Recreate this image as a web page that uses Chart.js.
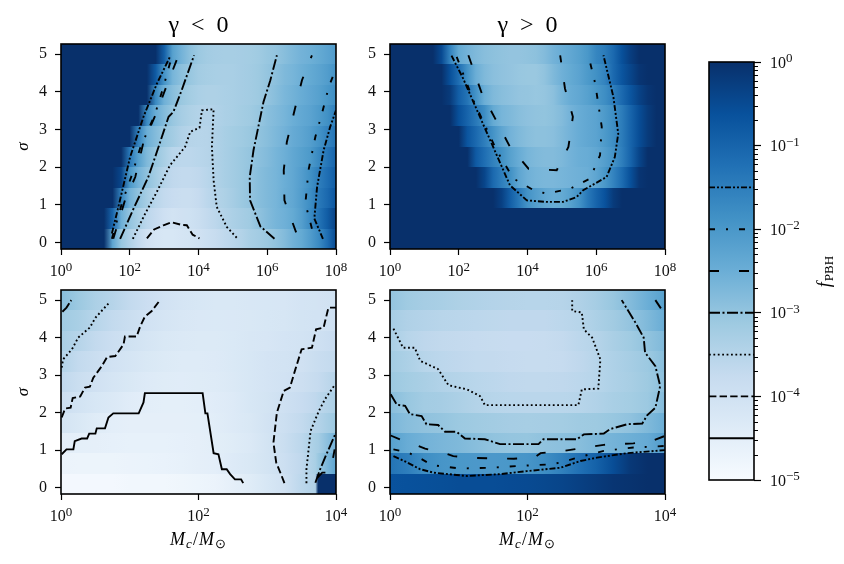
<!DOCTYPE html>
<html>
<head>
<meta charset="utf-8">
<style>
  html, body { margin: 0; background: #fff; }
  canvas { position: absolute; }
</style>
<script src="https://cdn.jsdelivr.net/npm/chart.js@4"></script>
</head>
<body>
<canvas id="topLeft" width="360" height="280" style="left:0;top:0"></canvas>
<canvas id="topRight" width="330" height="280" style="left:360px;top:0"></canvas>
<canvas id="bottomLeft" width="360" height="284" style="left:0;top:280px"></canvas>
<canvas id="bottomRight" width="330" height="284" style="left:360px;top:280px"></canvas>
<canvas id="colorBar" width="154" height="460" style="left:690px;top:40px"></canvas>
<script>
// edges of the 10 sigma rows, and log10(Mc) of the columns
const sigmaEdges = [-0.17, 0.37, 0.91, 1.46, 2.0, 2.55, 3.09, 3.64, 4.18, 4.73, 5.27];
const sigmaTicks = [0, 1, 2, 3, 4, 5];
const wideExp = [0,.25,.5,.75,1,1.25,1.5,1.75,2,2.25,2.5,2.75,3,3.25,3.5,3.75,4,4.25,4.5,4.75,5,5.25,5.5,5.75,6,6.25,6.5,6.75,7,7.25,7.5,7.75,8];
const narrowExp = [0,.25,.5,.75,1,1.25,1.5,1.75,2,2.25,2.5,2.75,3,3.25,3.5,3.75,4];
const narrowExpEdge = [0,.25,.5,.75,1,1.25,1.5,1.75,2,2.25,2.5,2.75,3,3.25,3.5,3.7,3.74,4];
const wideTicks = [1, 1e2, 1e4, 1e6, 1e8];
const narrowTicks = [1, 1e2, 1e4];
const barTicks = [1e-5, 1e-4, 1e-3, 1e-2, 1e-1, 1];
const barLevels = [-4.5, -4, -3.5, -3, -2.5, -2, -1.5];

// log10(fPBH), one line per sigma row, bottom row first
const topLeftF = [
  [0,0,0,0,0,0,-2.3,-3.05,-3.4,-3.7,-4,-4.15,-4.2,-4.2,-4.15,-4.1,-4,-3.89,-3.77,-3.66,-3.56,-3.45,-3.3,-3.2,-3.1,-2.97,-2.8,-2.57,-2.4,-2.1,-1.75,-1.2,-.5],
  [0,0,0,0,0,0,-1,-2.5,-3,-3.3,-3.6,-3.75,-3.95,-4.05,-4,-3.97,-3.85,-3.7,-3.6,-3.45,-3.35,-3.25,-3.15,-2.95,-2.8,-2.65,-2.55,-2.4,-2.15,-1.75,-1.3,-.85,-.35],
  [0,0,0,0,0,0,0,-1.6,-2.6,-2.95,-3.25,-3.55,-3.7,-3.8,-3.85,-3.85,-3.75,-3.6,-3.47,-3.37,-3.25,-3.1,-3,-2.85,-2.75,-2.65,-2.48,-2.35,-2.1,-1.8,-1.4,-1.1,-.7],
  [0,0,0,0,0,0,0,-.4,-2,-2.6,-2.95,-3.2,-3.5,-3.65,-3.7,-3.7,-3.65,-3.55,-3.42,-3.3,-3.2,-3.1,-3,-2.85,-2.75,-2.65,-2.5,-2.35,-2.13,-1.85,-1.5,-1.2,-.85],
  [0,0,0,0,0,0,0,0,-1.4,-2.2,-2.75,-3.05,-3.3,-3.55,-3.6,-3.6,-3.55,-3.5,-3.4,-3.3,-3.2,-3.1,-3.02,-2.9,-2.8,-2.65,-2.52,-2.35,-2.2,-2.05,-1.7,-1.35,-1],
  [0,0,0,0,0,0,0,0,0,-1.6,-2.5,-2.8,-3.05,-3.2,-3.4,-3.5,-3.52,-3.5,-3.4,-3.3,-3.22,-3.15,-3.08,-2.97,-2.85,-2.72,-2.6,-2.42,-2.3,-2.15,-1.9,-1.6,-1.3],
  [0,0,0,0,0,0,0,0,0,0,-1.75,-2.45,-2.8,-3.05,-3.25,-3.37,-3.45,-3.47,-3.42,-3.35,-3.3,-3.22,-3.15,-3.05,-2.88,-2.77,-2.65,-2.5,-2.37,-2.25,-2.07,-1.85,-1.5],
  [0,0,0,0,0,0,0,0,0,0,0,-1.7,-2.55,-2.85,-3.07,-3.22,-3.33,-3.37,-3.37,-3.33,-3.3,-3.25,-3.2,-3.12,-3,-2.85,-2.7,-2.58,-2.45,-2.33,-2.2,-2,-1.8],
  [0,0,0,0,0,0,0,0,0,0,0,-.8,-1.9,-2.65,-2.9,-3.05,-3.2,-3.27,-3.3,-3.32,-3.3,-3.25,-3.2,-3.12,-3.02,-2.9,-2.75,-2.65,-2.52,-2.4,-2.27,-2.12,-1.9],
  [0,0,0,0,0,0,0,0,0,0,0,0,-.9,-2.2,-2.6,-2.9,-3.1,-3.2,-3.25,-3.27,-3.27,-3.25,-3.22,-3.15,-3.05,-2.99,-2.85,-2.72,-2.6,-2.52,-2.4,-2.25,-2.1]
];
const topRightF = [
  [0,0,0,0,0,0,0,0,0,0,0,0,0,0,0,0,0,0,0,0,0,0,0,0,0,0,0,0,0,0,0,0,0],
  [0,0,0,0,0,0,0,0,0,0,0,0,0,0,0,0,0,0,0,0,0,0,0,0,0,0,0,0,0,0,0,0,0],
  [0,0,0,0,0,0,0,0,0,0,0,0,0,-.3,-.9,-1.4,-1.9,-2.15,-2.35,-2.45,-2.4,-2.2,-1.9,-1.4,-1,-.65,-.2,0,0,0,0,0,0],
  [0,0,0,0,0,0,0,0,0,0,0,-.4,-1.1,-1.5,-1.85,-2.3,-2.55,-2.65,-2.7,-2.7,-2.65,-2.6,-2.55,-2.5,-2.3,-2,-1.6,-1.15,-.6,-.1,0,0,0],
  [0,0,0,0,0,0,0,0,0,0,-.8,-1.2,-1.55,-1.85,-2.2,-2.45,-2.65,-2.75,-2.8,-2.8,-2.72,-2.6,-2.5,-2.45,-2.35,-2.15,-1.9,-1.5,-1,-.4,0,0,0],
  [0,0,0,0,0,0,0,0,0,-.7,-1.1,-1.5,-1.9,-2.3,-2.6,-2.75,-2.85,-2.92,-2.92,-2.88,-2.75,-2.6,-2.45,-2.35,-2.25,-2.05,-1.8,-1.45,-1,-.55,-.2,0,0],
  [0,0,0,0,0,0,0,0,-.6,-1,-1.4,-1.8,-2.4,-2.65,-2.75,-2.85,-2.93,-2.97,-2.98,-2.92,-2.8,-2.6,-2.45,-2.35,-2.25,-2.05,-1.8,-1.45,-1,-.55,-.2,0,0],
  [0,0,0,0,0,0,0,-.2,-.9,-1.3,-1.9,-2.5,-2.75,-2.85,-2.93,-3,-3.02,-3.05,-3.02,-2.9,-2.65,-2.45,-2.35,-2.2,-2,-1.8,-1.5,-1.1,-.7,-.35,-.1,0,0],
  [0,0,0,0,0,0,0,-.6,-1.2,-1.9,-2.5,-2.75,-2.88,-2.95,-3,-3.05,-3.08,-3.08,-2.97,-2.75,-2.55,-2.4,-2.25,-2.05,-1.85,-1.6,-1.1,-.7,-.4,-.1,0,0,0],
  [0,0,0,0,0,0,-.5,-1.6,-2.4,-2.6,-2.75,-2.85,-2.92,-2.97,-3,-3,-2.97,-2.92,-2.8,-2.6,-2.45,-2.35,-2.2,-2,-1.65,-1.45,-1.1,-.6,-.25,0,0,0,0]
];
const bottomLeftF = [
  [-4.9,-4.9,-4.9,-4.9,-4.85,-4.85,-4.85,-4.8,-4.75,-4.7,-4.55,-4.4,-4.2,-4,-3.6,-3.4,0,0],
  [-4.7,-4.72,-4.72,-4.72,-4.7,-4.68,-4.65,-4.6,-4.55,-4.5,-4.35,-4.25,-4.1,-3.9,-3.65,-3.3,-3.1,-2.3],
  [-4.5,-4.52,-4.55,-4.58,-4.6,-4.6,-4.6,-4.58,-4.55,-4.48,-4.4,-4.3,-4.1,-3.85,-3.6,-3.3,-3.25,-2.6],
  [-4.1,-4.25,-4.4,-4.5,-4.55,-4.55,-4.55,-4.55,-4.52,-4.45,-4.35,-4.25,-4.05,-3.9,-3.7,-3.5,-3.47,-3.1],
  [-3.9,-4.05,-4.2,-4.3,-4.43,-4.5,-4.52,-4.52,-4.5,-4.42,-4.35,-4.2,-4.1,-3.95,-3.8,-3.65,-3.6,-3.35],
  [-3.65,-3.85,-4,-4.15,-4.25,-4.35,-4.4,-4.42,-4.4,-4.37,-4.3,-4.2,-4.12,-4.03,-3.92,-3.78,-3.75,-3.5],
  [-3.45,-3.7,-3.85,-4.03,-4.15,-4.25,-4.32,-4.37,-4.38,-4.35,-4.28,-4.2,-4.12,-4.07,-4,-3.85,-3.83,-3.7],
  [-3.3,-3.5,-3.7,-3.87,-4.02,-4.15,-4.25,-4.3,-4.32,-4.32,-4.28,-4.22,-4.18,-4.12,-4.05,-3.98,-3.95,-3.8],
  [-3.15,-3.3,-3.52,-3.7,-3.85,-4.03,-4.15,-4.22,-4.27,-4.28,-4.27,-4.25,-4.2,-4.17,-4.1,-4.05,-4.05,-3.95],
  [-2.85,-3.1,-3.35,-3.5,-3.7,-3.88,-4.03,-4.13,-4.2,-4.25,-4.25,-4.22,-4.2,-4.18,-4.12,-4.1,-4.08,-4.02]
];
const bottomRightF = [
  [-.65,-.62,-.6,-.58,-.55,-.55,-.55,-.52,-.5,-.45,-.4,-.3,-.2,-.1,-.05,0,0],
  [-1.3,-1.5,-1.8,-1.95,-2,-2.02,-2.02,-2,-1.95,-1.8,-1.55,-1.25,-.95,-.55,-.15,0,0],
  [-2.2,-2.45,-2.6,-2.68,-2.75,-2.85,-2.97,-3.02,-3.03,-2.95,-2.9,-2.85,-2.72,-2.62,-2.52,-2.42,-2.1],
  [-2.7,-2.85,-2.95,-3.02,-3.1,-3.15,-3.2,-3.25,-3.27,-3.25,-3.22,-3.15,-3.12,-3.05,-2.95,-2.75,-2.5],
  [-2.85,-3.05,-3.2,-3.25,-3.35,-3.45,-3.52,-3.55,-3.57,-3.57,-3.55,-3.52,-3.42,-3.3,-3.22,-3.1,-2.8],
  [-3.1,-3.22,-3.32,-3.42,-3.48,-3.55,-3.6,-3.65,-3.67,-3.67,-3.65,-3.6,-3.52,-3.38,-3.28,-3.12,-2.9],
  [-3.2,-3.35,-3.52,-3.6,-3.65,-3.7,-3.72,-3.75,-3.77,-3.77,-3.75,-3.65,-3.52,-3.38,-3.25,-3.1,-2.85],
  [-3.3,-3.52,-3.62,-3.68,-3.72,-3.75,-3.78,-3.8,-3.8,-3.78,-3.72,-3.6,-3.5,-3.32,-3.15,-2.97,-2.75],
  [-3.25,-3.4,-3.47,-3.53,-3.57,-3.6,-3.63,-3.65,-3.65,-3.65,-3.6,-3.52,-3.35,-3.18,-3,-2.75,-2.45],
  [-3,-3.15,-3.25,-3.3,-3.37,-3.42,-3.47,-3.5,-3.52,-3.52,-3.5,-3.4,-3.25,-3.05,-2.8,-2.5,-2.2]
];

// contour lines as [log10(Mc), sigma]
const tlM4 = [[2.5,.11],[2.71,.35],[2.98,.46],[3.22,.54],[3.51,.47],[3.66,.46],[3.83,.21],[4.03,.11]];
const tlM35 = [[2.09,.1],[2.45,.77],[2.79,1.35],[3.17,2.05],[3.61,2.54],[3.76,2.94],[4.03,3.05],[4.1,3.51],[4.44,3.54],[4.39,2.54],[4.44,1.65],[4.53,.95],[4.82,.42],[5.14,.1]];
const tlM3a = [[1.72,.1],[2.11,.9],[2.54,1.74],[2.79,2.41],[3.13,3.34],[3.27,3.47],[3.51,4.04],[3.87,4.97]];
const tlM3b = [[6.21,.1],[5.8,.43],[5.5,1.12],[5.49,1.74],[5.6,2.45],[5.89,3.73],[6.09,4.31],[6.28,4.97]];
const tlM25a = [[1.52,.1],[1.86,1.12],[2.16,1.74],[2.4,2.67],[2.79,3.47],[3.08,4.18],[3.42,4.97]];
const tlM25b = [[6.84,.27],[6.5,1.12],[6.48,1.92],[6.57,2.67],[6.77,3.42],[7.01,4.31],[7.3,4.97]];
const tlM2a = [[1.48,.1],[1.77,1.04],[2.06,1.79],[2.3,2.5],[2.74,3.42],[2.98,4.13],[3.22,4.93]];
const tlM2b = [[7.3,.37],[7.11,1.04],[7.2,1.92],[7.4,2.81],[7.59,3.42],[7.79,4.13],[7.96,4.53]];
const tlM15a = [[1.48,.24],[1.67,.95],[2.01,2.27],[2.4,3.34],[2.79,4.22],[3.17,4.93]];
const tlM15b = [[7.62,.1],[7.37,.64],[7.45,1.48],[7.64,2.45],[7.83,3.07],[8,3.51]];

const trM15 = [[1.79,4.96],[2.13,4.35],[2.72,3.12],[3.49,1.52],[3.98,1.12],[4.56,1.08],[5.04,1.08],[5.43,1.21],[5.62,1.39],[6.3,1.74],[6.54,2.27],[6.64,2.89],[6.5,3.86],[6.21,4.97]];
const trM2 = [[1.94,4.93],[2.42,3.78],[3.1,2.45],[3.59,1.7],[4.22,1.37],[4.56,1.3],[5.24,1.43],[5.82,1.7],[6.11,2.32],[6.16,3.07],[5.97,4.22],[5.77,4.97]];
const trM25 = [[2.28,4.97],[2.67,3.96],[3.06,3.29],[3.49,2.54],[4.03,1.96],[4.85,1.92],[5.19,2.54],[5.32,3.34],[5.09,4.09],[4.95,4.97]];

const blM45 = [[.01,.89],[.08,1.02],[.18,1.02],[.2,1.24],[.3,1.31],[.38,1.31],[.41,1.44],[.5,1.44],[.52,1.58],[.64,1.58],[.69,1.87],[.76,1.98],[1.13,1.98],[1.2,2.27],[1.22,2.52],[2.06,2.52],[2.1,1.98],[2.13,1.98],[2.22,.92],[2.29,.89],[2.34,.49],[2.41,.49],[2.46,.36],[2.53,.22],[2.62,.22],[2.65,.12]];
const blM4a = [[.01,1.87],[.06,2.11],[.14,2.13],[.17,2.39],[.28,2.43],[.35,2.67],[.42,2.69],[.47,2.93],[.59,3.23],[.67,3.48],[.79,3.51],[.91,3.82],[.93,4.03],[1.1,4.03],[1.15,4.29],[1.22,4.56],[1.32,4.71],[1.44,5]];
const blM4b = [[3.25,.12],[3.21,.31],[3.13,.67],[3.09,1.2],[3.14,2],[3.24,2.58],[3.33,2.67],[3.41,3.16],[3.5,3.69],[3.65,3.73],[3.71,4.22],[3.82,4.27],[3.89,4.8],[4,4.8]];
const blM35a = [[.01,3.2],[.03,3.42],[.16,3.69],[.25,4],[.42,4.27],[.5,4.53],[.59,4.71],[.71,4.95]];
const blM35b = [[3.57,.12],[3.57,.49],[3.63,1.51],[3.75,2.04],[3.84,2.36],[3.99,2.76]];
const blM3a = [[.02,4.69],[.08,4.8],[.15,5]];
const blM3b = [[3.7,.13],[3.77,.49],[3.84,.8],[4,1.47]];
const blM25 = [[3.73,.27],[3.8,.4],[3.92,.4],[3.98,1.02]];

const brM35 = [[.05,4.24],[.19,3.73],[.36,3.73],[.44,3.38],[.7,3.16],[.85,2.73],[1.12,2.62],[1.31,2.44],[1.38,2.2],[2.74,2.2],[2.79,2.62],[3.03,2.64],[3.06,3.42],[2.94,4],[2.82,4.22],[2.79,4.67],[2.65,4.71],[2.65,5]];
const brM3 = [[.01,2.49],[.1,2.21],[.22,2.18],[.29,1.96],[.46,1.91],[.53,1.69],[.7,1.67],[.8,1.49],[.97,1.49],[1.09,1.31],[1.38,1.29],[1.6,1.16],[2.16,1.16],[2.23,1.29],[2.72,1.29],[2.82,1.42],[3.11,1.44],[3.2,1.56],[3.45,1.69],[3.67,1.71],[3.74,1.93],[3.86,2.13],[3.93,2.71],[3.86,3.24],[3.71,3.6],[3.69,4],[3.57,4.4],[3.37,5]];
const brM25a = [[.01,1.39],[.15,1.28],[.39,1.13],[.51,1.04],[.8,.92],[.92,.84],[1.24,.79],[1.8,.77],[2.1,.8],[2.19,.92],[2.53,.98],[2.67,1.02],[3.11,1.14],[3.54,1.18],[3.85,1.27],[4,1.38]];
const brM25b = [[3.86,5],[3.94,4.78]];
const brM2 = [[.05,1.02],[.27,.93],[.46,.76],[.61,.6],[1.02,.51],[1.46,.53],[1.89,.58],[2.33,.62],[2.52,.68],[2.72,.8],[3.11,.98],[3.54,1.07],[4,1.11]];
const brM15 = [[.05,.84],[.24,.68],[.44,.49],[.63,.4],[1.12,.31],[1.6,.36],[1.99,.44],[2.48,.53],[2.77,.71],[3.01,.8],[3.45,.92],[4,1]];

const blues = ['#f7fbff', '#deebf7', '#c6dbef', '#9ecae1', '#6baed6', '#4292c6', '#2171b5', '#08519c', '#08306b'];
const serif = '"Liberation Serif", serif';

// line style of each contour level
const dashes = {
  '-4.5': [],
  '-4': [7.4, 3.2],
  '-3.5': [1.8, 2.6],
  '-3': [11, 2.5, 2, 2.5],
  '-2.5': [10, 20],
  '-2': [6, 11, 2, 11],
  '-1.5': [6, 2, 2, 2, 2, 2]
};

function colorOf(logF) {
  const t = Math.min(1, Math.max(0, (logF + 5) / 5)) * (blues.length - 1);
  const i = Math.min(blues.length - 2, Math.floor(t));
  const a = parseInt(blues[i].slice(1), 16), b = parseInt(blues[i + 1].slice(1), 16);
  const mix = s => Math.round(((a >> s) & 255) + (((b >> s) & 255) - ((a >> s) & 255)) * (t - i));
  return `rgb(${mix(16)},${mix(8)},${mix(0)})`;
}

function contour(points, level) {
  return {
    data: points.map(p => ({ x: Math.pow(10, p[0]), y: p[1] })),
    showLine: true,
    pointRadius: 0,
    borderColor: '#000',
    borderWidth: 1.9,
    borderDash: dashes[level],
    tension: 0
  };
}

// text with subscripts, each part drawn on its own
function drawParts(ctx, parts, x, y, angle) {
  ctx.save();
  ctx.translate(x, y);
  ctx.rotate(angle);
  ctx.fillStyle = '#000';
  ctx.textBaseline = 'alphabetic';
  ctx.textAlign = 'left';
  const fontOf = p => `${p.italic ? 'italic ' : ''}${p.sub ? 13 : 18}px ${serif}`;
  let width = 0;
  parts.forEach(p => { ctx.font = fontOf(p); width += ctx.measureText(p.text).width + 1; });
  let pen = -width / 2;
  parts.forEach(p => {
    ctx.font = fontOf(p);
    ctx.fillText(p.text, pen, p.sub ? 8 : 5);
    pen += ctx.measureText(p.text).width + 1;
  });
  ctx.restore();
}

// tick label "10^n": base and raised exponent
function drawPower(ctx, label, x, y, anchorLeft) {
  const [base, exp] = label.split('^');
  ctx.save();
  ctx.fillStyle = '#111';
  ctx.textBaseline = 'alphabetic';
  ctx.textAlign = 'left';
  ctx.font = `16px ${serif}`;
  const baseWidth = ctx.measureText(base).width;
  ctx.font = `13px ${serif}`;
  const expWidth = ctx.measureText(exp).width;
  const left = anchorLeft ? x : x - (baseWidth + expWidth) / 2;
  ctx.font = `16px ${serif}`;
  ctx.fillText(base, left, y);
  ctx.font = `13px ${serif}`;
  ctx.fillText(exp, left + baseWidth, y - 5.5);
  ctx.restore();
}

const heatmap = {
  id: 'heatmap',
  beforeDatasetsDraw(chart, args, opts) {
    const { ctx, scales: { x, y } } = chart;
    const left = x.getPixelForValue(Math.pow(10, opts.columns[0]));
    const right = x.getPixelForValue(Math.pow(10, opts.columns[opts.columns.length - 1]));
    opts.field.forEach((row, r) => {
      const grad = ctx.createLinearGradient(left, 0, right, 0);
      row.forEach((v, c) => {
        const px = x.getPixelForValue(Math.pow(10, opts.columns[c]));
        grad.addColorStop((px - left) / (right - left), colorOf(v));
      });
      const top = Math.round(y.getPixelForValue(sigmaEdges[r + 1]));
      const bottom = Math.round(y.getPixelForValue(sigmaEdges[r]));
      ctx.fillStyle = grad;
      ctx.fillRect(left, top, right - left, bottom - top);
    });
  }
};

const frame = {
  id: 'frame',
  afterDraw(chart, args, opts) {
    const { ctx, chartArea: a, scales: { x } } = chart;
    ctx.save();
    ctx.strokeStyle = '#000';
    ctx.lineWidth = 1.6;
    ctx.strokeRect(a.left, a.top, a.right - a.left, a.bottom - a.top);
    ctx.restore();
    x.ticks.forEach(t => drawPower(ctx, t.label, x.getPixelForValue(t.value), a.bottom + 27, false));
    if (opts.massLabel) {
      drawParts(ctx, [
        { text: 'M', italic: true },
        { text: 'c', italic: true, sub: true },
        { text: '/' },
        { text: 'M', italic: true },
        { text: '⊙', sub: true }
      ], (a.left + a.right) / 2, a.bottom + 46, 0);
    }
  }
};

function powerLabel(v) {
  return '10^' + String(Math.round(Math.log10(v))).replace('-', '−');
}

function panel(id, cfg) {
  new Chart(document.getElementById(id), {
    type: 'scatter',
    data: { datasets: cfg.lines.map(l => contour(l[0], l[1])) },
    plugins: [heatmap, frame],
    options: {
      responsive: false,
      animation: false,
      layout: { padding: { top: cfg.padTop, right: cfg.padRight } },
      plugins: {
        legend: { display: false },
        tooltip: { enabled: false },
        title: {
          display: !!cfg.title,
          text: cfg.title,
          fullSize: false,
          color: '#000',
          font: { family: serif, size: 24, weight: 'normal' },
          padding: { top: 11.5, bottom: 3.7 }
        },
        heatmap: { field: cfg.field, columns: cfg.columns },
        frame: { massLabel: cfg.massLabel }
      },
      scales: {
        x: {
          type: 'logarithmic',
          min: 1,
          max: cfg.ticks[cfg.ticks.length - 1],
          afterBuildTicks: s => { s.ticks = cfg.ticks.map(v => ({ value: v })); },
          afterFit: s => { s.height = cfg.axisHeight; s.paddingLeft = 0; s.paddingRight = 0; },
          border: { display: false },
          grid: { drawOnChartArea: false, tickLength: 6, tickColor: '#000', tickWidth: 1.2 },
          ticks: { display: false, autoSkip: false, callback: powerLabel }
        },
        y: {
          min: sigmaEdges[0],
          max: sigmaEdges[sigmaEdges.length - 1],
          afterBuildTicks: s => { s.ticks = sigmaTicks.map(v => ({ value: v })); },
          afterFit: s => { s.width = cfg.axisWidth; s.paddingTop = 0; s.paddingBottom = 0; },
          border: { display: false },
          title: { display: cfg.sigmaLabel, text: 'σ', color: '#000', padding: { top: 13, bottom: 0 }, font: { family: serif, style: 'italic', size: 17 } },
          grid: { drawOnChartArea: false, tickLength: 6, tickColor: '#000', tickWidth: 1.2 },
          ticks: { color: '#111', autoSkip: false, padding: 8, font: { family: serif, size: 16 } }
        }
      }
    }
  });
}

panel('topLeft', {
  title: 'γ  <  0', field: topLeftF, columns: wideExp, ticks: wideTicks, padTop: 0, padRight: 24, axisWidth: 61, axisHeight: 31, sigmaLabel: true,
  lines: [[tlM4, -4], [tlM35, -3.5], [tlM3a, -3], [tlM3b, -3], [tlM25a, -2.5], [tlM25b, -2.5], [tlM2a, -2], [tlM2b, -2], [tlM15a, -1.5], [tlM15b, -1.5]]
});
panel('topRight', {
  title: 'γ  >  0', field: topRightF, columns: wideExp, ticks: wideTicks, padTop: 0, padRight: 25, axisWidth: 30, axisHeight: 31, sigmaLabel: false,
  lines: [[trM15, -1.5], [trM2, -2], [trM25, -2.5]]
});
panel('bottomLeft', {
  field: bottomLeftF, columns: narrowExpEdge, ticks: narrowTicks, padTop: 10, padRight: 24, axisWidth: 61, axisHeight: 70, sigmaLabel: true, massLabel: true,
  lines: [[blM45, -4.5], [blM4a, -4], [blM4b, -4], [blM35a, -3.5], [blM35b, -3.5], [blM3a, -3], [blM3b, -3], [blM25, -2.5]]
});
panel('bottomRight', {
  field: bottomRightF, columns: narrowExp, ticks: narrowTicks, padTop: 10, padRight: 25, axisWidth: 30, axisHeight: 70, sigmaLabel: false, massLabel: true,
  lines: [[brM35, -3.5], [brM3, -3], [brM25a, -2.5], [brM25b, -2.5], [brM2, -2], [brM15, -1.5]]
});

// colour bar
const barGradient = {
  id: 'barGradient',
  beforeDatasetsDraw(chart) {
    const { ctx, chartArea: a } = chart;
    const grad = ctx.createLinearGradient(0, a.bottom, 0, a.top);
    blues.forEach((c, i) => grad.addColorStop(i / (blues.length - 1), c));
    ctx.fillStyle = grad;
    ctx.fillRect(a.left, a.top, a.right - a.left, a.bottom - a.top);
  },
  afterDraw(chart) {
    const { ctx, chartArea: a, scales: { y } } = chart;
    ctx.save();
    ctx.strokeStyle = '#000';
    ctx.lineWidth = 1.2;
    ctx.beginPath();
    barTicks.slice(0, -1).forEach(d => {
      [2, 3, 4, 5, 6, 7, 8, 9].forEach(m => {
        const py = Math.round(y.getPixelForValue(d * m)) + 0.5;
        ctx.moveTo(a.right, py);
        ctx.lineTo(a.right + 4, py);
      });
    });
    ctx.stroke();
    ctx.lineWidth = 1.6;
    ctx.strokeRect(a.left, a.top, a.right - a.left, a.bottom - a.top);
    ctx.restore();
    y.ticks.forEach(t => drawPower(ctx, t.label, a.right + 16, y.getPixelForValue(t.value) + 5.5, true));
    drawParts(ctx, [{ text: 'f', italic: true }, { text: 'PBH', sub: true }], 135, 231, -Math.PI / 2);
  }
};

new Chart(document.getElementById('colorBar'), {
  type: 'scatter',
  data: {
    datasets: barLevels.map(level => {
      const d = contour([[0, level], [1, level]], level);
      d.data = [{ x: 0, y: Math.pow(10, level) }, { x: 1, y: Math.pow(10, level) }];
      return d;
    })
  },
  plugins: [barGradient],
  options: {
    responsive: false,
    animation: false,
    layout: { padding: { left: 19, top: 22, bottom: 20 } },
    plugins: { legend: { display: false }, tooltip: { enabled: false } },
    scales: {
      x: { type: 'linear', min: 0, max: 1, display: false },
      y: {
        type: 'logarithmic',
        position: 'right',
        min: 1e-5,
        max: 1,
        afterBuildTicks: s => { s.ticks = barTicks.map(v => ({ value: v })); },
        afterFit: s => { s.width = 90; s.paddingTop = 0; s.paddingBottom = 0; },
        border: { display: false },
        grid: { drawOnChartArea: false, tickLength: 7, tickColor: '#000', tickWidth: 1.2 },
        ticks: { display: false, autoSkip: false, callback: powerLabel }
      }
    }
  }
});
</script>
</body>
</html>
